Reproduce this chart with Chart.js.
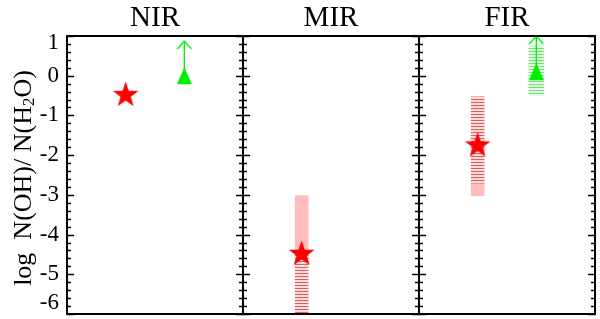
<!DOCTYPE html>
<html>
<head>
<meta charset="utf-8">
<script src="https://cdn.jsdelivr.net/npm/chart.js@4.4.1/dist/chart.umd.min.js"></script>
<style>
  html, body { margin: 0; padding: 0; background: #fff; }
  #wrap { width: 600px; height: 319px; }
</style>
</head>
<body>
<div id="wrap"><canvas id="chart"></canvas></div>
<script>
// panels and axis
const panels = ['NIR', 'MIR', 'FIR'];
const panelCenters = [1.5, 4.5, 7.5];
const panelEdges = [3, 6];
const yTicks = [-6, -5, -4, -3, -2, -1, 0, 1];

// red stars (OH/H2O estimates)
const starX = [1, 4, 7];
const starY = [-0.45, -4.45, -1.72];

// green triangles with upward arrows (lower limits)
const triX = [2, 8];
const triY = [0, 0.1];
const arrowTop = [0.875, 1.0];

// error ranges
const pinkX = [4, 7];
const pinkLo = [-4.45, -3.02];
const pinkHi = [-3.02, -2.72];
const redHatchX = [4, 7];
const redHatchLo = [-6.0, -2.72];
const redHatchHi = [-4.45, -0.53];
const greenHatchX = [8];
const greenHatchLo = [-0.5];
const greenHatchHi = [0.75];

const serif = '"Liberation Serif", "DejaVu Serif", serif';

// marker images
function starImage(r, color) {
    let c = document.createElement('canvas');
    c.width = c.height = Math.ceil(r * 2 + 2);
    let g = c.getContext('2d');
    let cx = c.width / 2, cy = c.height / 2;
    g.fillStyle = color;
    g.beginPath();
    for (let i = 0; i < 10; i++) {
        let rad = i % 2 === 0 ? r : r * 0.4;
        let a = -Math.PI / 2 + i * Math.PI / 5;
        let px = cx + rad * Math.cos(a), py = cy + rad * Math.sin(a) + 1.5;
        i === 0 ? g.moveTo(px, py) : g.lineTo(px, py);
    }
    g.closePath();
    g.fill();
    return c;
}
function triangleImage(w, h, color) {
    let c = document.createElement('canvas');
    c.width = w + 2; c.height = h + 2;
    let g = c.getContext('2d');
    g.fillStyle = color;
    g.beginPath();
    g.moveTo(c.width / 2, 1);
    g.lineTo(c.width / 2 + w / 2, h + 1);
    g.lineTo(c.width / 2 - w / 2, h + 1);
    g.closePath();
    g.fill();
    return c;
}
function arrowHeadImage(w, h, color) {
    // tip sits at the centre of the canvas
    let c = document.createElement('canvas');
    c.width = w + 2; c.height = h * 2 + 2;
    let g = c.getContext('2d');
    g.strokeStyle = color;
    g.lineWidth = 1.4;
    let cx = c.width / 2, cy = c.height / 2;
    g.beginPath();
    g.moveTo(cx - w / 2, cy + h);
    g.lineTo(cx, cy);
    g.lineTo(cx + w / 2, cy + h);
    g.stroke();
    return c;
}
function hatch(lineColor, gapColor) {
    let c = document.createElement('canvas');
    c.width = 4; c.height = 3;
    let g = c.getContext('2d');
    g.fillStyle = gapColor;
    g.fillRect(0, 0, 4, 3);
    g.fillStyle = lineColor;
    g.fillRect(0, 0, 4, 1);
    return g.createPattern(c, 'repeat');
}

const red = '#ff0000';
const green = '#00ee00';

let datasets = [];
datasets.push({
    type: 'bar', order: 5, grouped: false, barThickness: 13,
    backgroundColor: '#ffbcbc', borderWidth: 0,
    data: pinkX.map((x, i) => ({x: x, y: [pinkLo[i], pinkHi[i]]}))
});
datasets.push({
    type: 'bar', order: 5, grouped: false, barThickness: 13,
    backgroundColor: hatch('#e45c5c', '#fcdcdc'), borderWidth: 0,
    data: redHatchX.map((x, i) => ({x: x, y: [redHatchLo[i], redHatchHi[i]]}))
});
datasets.push({
    type: 'bar', order: 5, grouped: false, barThickness: 15,
    backgroundColor: hatch('#6fe46f', '#e6fbe6'), borderWidth: 0,
    data: greenHatchX.map((x, i) => ({x: x, y: [greenHatchLo[i], greenHatchHi[i]]}))
});
triX.forEach((x, i) => {
    datasets.push({
        type: 'scatter', order: 3, showLine: true, clip: false,
        borderColor: green, borderWidth: 1.4, pointRadius: 0,
        data: [{x: x, y: triY[i]}, {x: x, y: arrowTop[i]}]
    });
});
datasets.push({
    type: 'scatter', order: 2, clip: false,
    pointStyle: arrowHeadImage(14, 8, green),
    data: triX.map((x, i) => ({x: x, y: arrowTop[i]}))
});
datasets.push({
    type: 'scatter', order: 1, clip: false,
    pointStyle: triangleImage(15, 17, green),
    data: triX.map((x, i) => ({x: x, y: triY[i]}))
});
datasets.push({
    type: 'scatter', order: 1, clip: false,
    pointStyle: starImage(13.5, red),
    data: starX.map((x, i) => ({x: x, y: starY[i]}))
});

// frame, inward ticks, labels and titles
const decorations = {
    id: 'decorations',
    afterDatasetsDraw(chart) {
        let ctx = chart.ctx;
        let a = chart.chartArea;
        let xs = chart.scales.x, ys = chart.scales.y;
        ctx.save();
        ctx.strokeStyle = '#000';
        ctx.lineWidth = 2;
        ctx.strokeRect(a.left, a.top, a.right - a.left, a.bottom - a.top);
        let edges = panelEdges.map(v => xs.getPixelForValue(v));
        edges.forEach(px => {
            ctx.beginPath();
            ctx.moveTo(px, a.top);
            ctx.lineTo(px, a.bottom);
            ctx.stroke();
        });
        // ticks every 0.2
        ctx.lineWidth = 1.3;
        let yMin = yTicks[0], yMax = yTicks[yTicks.length - 1];
        let n = Math.round((yMax - yMin) / 0.2);
        for (let k = 0; k <= n; k++) {
            let py = Math.round(ys.getPixelForValue(yMin + k * 0.2)) + 0.5;
            let len = k % 5 === 0 ? 7 : 4;
            ctx.beginPath();
            ctx.moveTo(a.left, py); ctx.lineTo(a.left + len, py);
            ctx.moveTo(a.right, py); ctx.lineTo(a.right - len, py);
            edges.forEach(px => {
                ctx.moveTo(px - len, py); ctx.lineTo(px + len, py);
            });
            ctx.stroke();
        }
        // tick labels
        ctx.fillStyle = '#000';
        ctx.font = '23px ' + serif;
        ctx.textAlign = 'right';
        ctx.textBaseline = 'middle';
        yTicks.forEach(v => {
            let py = ys.getPixelForValue(v);
            if (v === yMax) py += 7;
            if (v === yMin) py -= 11;
            ctx.fillText(String(v), a.left - 8, py);
        });
        // panel titles
        ctx.font = '29px ' + serif;
        ctx.textAlign = 'center';
        ctx.textBaseline = 'middle';
        panels.forEach((p, i) => {
            ctx.fillText(p, xs.getPixelForValue(panelCenters[i]), 18);
        });
        // y axis title with subscript
        ctx.translate(24, 178);
        ctx.rotate(-Math.PI / 2);
        let big = '26px ' + serif, small = '17px ' + serif;
        let parts = [['log  N(OH)/ N(H', big, 0], ['2', small, 6], ['O)', big, 0]];
        let total = 0;
        parts.forEach(p => { ctx.font = p[1]; total += ctx.measureText(p[0]).width; });
        let cx = -total / 2;
        ctx.textAlign = 'left';
        ctx.textBaseline = 'middle';
        parts.forEach(p => {
            ctx.font = p[1];
            ctx.fillText(p[0], cx, p[2]);
            cx += ctx.measureText(p[0]).width;
        });
        ctx.restore();
    }
};

new Chart(document.getElementById('chart').getContext('2d'), {
    type: 'scatter',
    data: {datasets: datasets},
    options: {
        responsive: true,
        maintainAspectRatio: false,
        animation: false,
        layout: {padding: {left: 67, right: 5, top: 36, bottom: 3}},
        plugins: {legend: {display: false}, tooltip: {enabled: false}},
        scales: {
            x: {type: 'linear', display: false, min: 0, max: 9, offset: false},
            y: {type: 'linear', display: false, min: yTicks[0], max: yTicks[yTicks.length - 1]}
        }
    },
    plugins: [decorations]
});
</script>
</body>
</html>
